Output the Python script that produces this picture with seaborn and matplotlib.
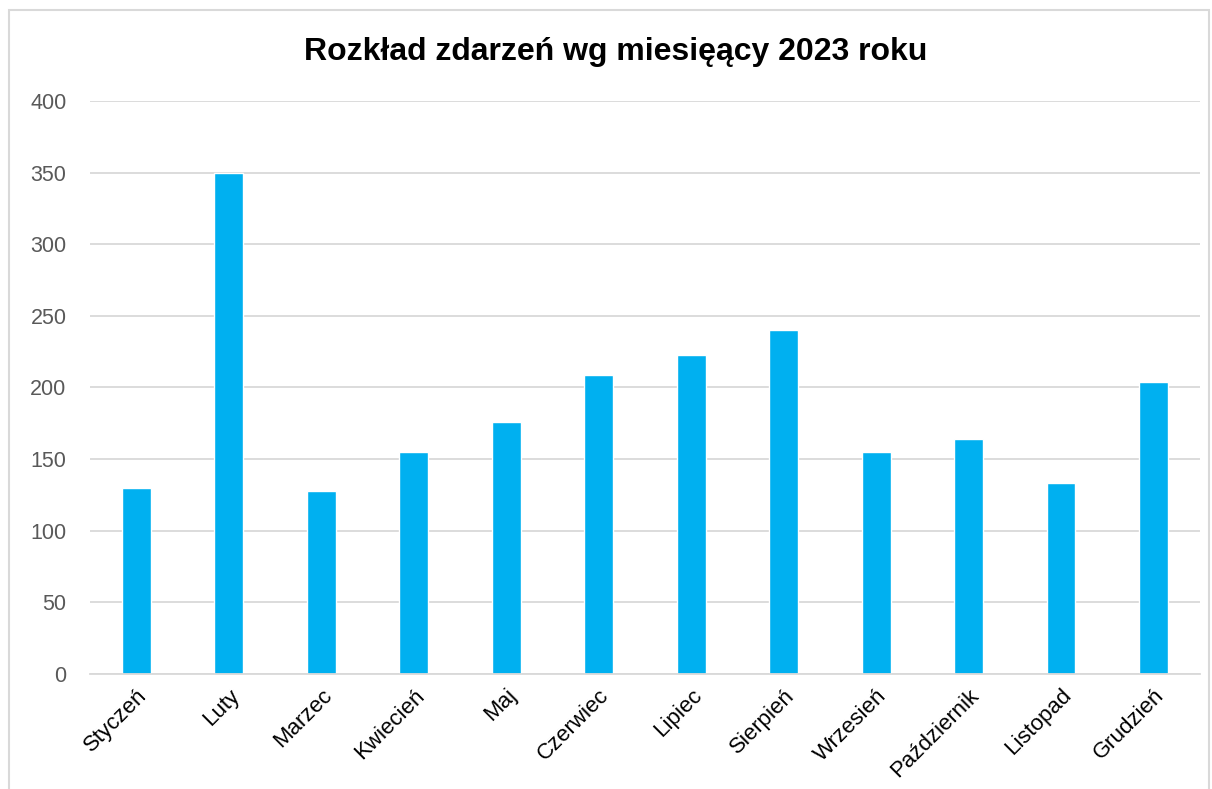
import pandas as pd
import matplotlib.pyplot as plt
import seaborn as sns
from matplotlib.patches import Rectangle

miesiace = ['Styczeń', 'Luty', 'Marzec', 'Kwiecień', 'Maj', 'Czerwiec',
            'Lipiec', 'Sierpień', 'Wrzesień', 'Październik', 'Listopad', 'Grudzień']
zdarzenia = [130, 350, 128, 155, 176, 209, 223, 240, 155, 164, 133, 204]
y_ticks = [0, 50, 100, 150, 200, 250, 300, 350, 400]

df = pd.DataFrame({'miesiac': miesiace, 'liczba': zdarzenia})

sns.set_style('white')
plt.rcParams['font.family'] = ['Liberation Sans', 'DejaVu Sans']

fig = plt.figure(figsize=(12.12, 7.89), dpi=100)
ax = fig.add_axes([0.0743, 0.1458, 0.9157, 0.7262])

sns.barplot(data=df, x='miesiac', y='liczba', color='#00B0F0', saturation=1,
            width=0.31, ax=ax, zorder=2)

ax.set_ylim(0, 400)
ax.set_yticks(y_ticks)
ax.set_xlim(-0.5, len(miesiace) - 0.5)
ax.yaxis.grid(True, color='#D9D9D9', linewidth=1.3, zorder=0)
for s in ['top', 'right', 'left']:
    ax.spines[s].set_visible(False)
ax.spines['bottom'].set_color('#D9D9D9')
ax.spines['bottom'].set_linewidth(1.3)
ax.tick_params(axis='y', labelsize=15.5, labelcolor='#595959', length=0, pad=17)
ax.tick_params(axis='x', labelsize=16, labelcolor='black', length=0, pad=8)
plt.setp(ax.get_xticklabels(), rotation=45, ha='right', rotation_mode='anchor')
ax.set_xlabel('')
ax.set_ylabel('')

fig.text(0.508, 0.934, 'Rozkład zdarzeń wg miesięący 2023 roku', ha='center', va='center',
         fontsize=23, fontweight='bold', color='black')

# obramowanie wykresu
fig.patches.append(Rectangle((9 / 1212, -0.01), 1200 / 1212, 1 - 10 / 789 + 0.01,
                             transform=fig.transFigure, fill=False,
                             edgecolor='#D9D9D9', linewidth=1.5))

fig.savefig('out.png', dpi=100)
